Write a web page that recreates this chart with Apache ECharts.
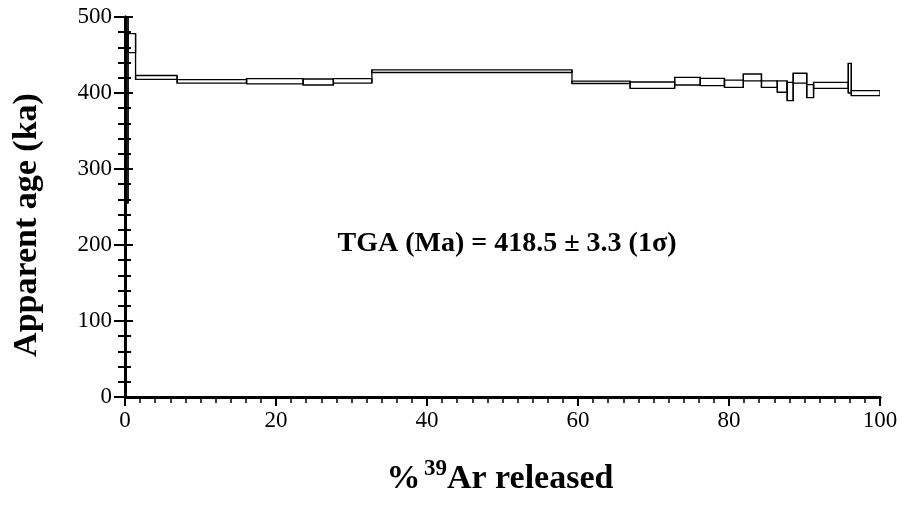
<!DOCTYPE html>
<html>
<head>
<meta charset="utf-8">
<script src="https://cdn.jsdelivr.net/npm/echarts@6/dist/echarts.min.js"></script>
<style>
  html,body{margin:0;padding:0;background:#fff;}
  #chart{width:903px;height:506px;}
</style>
</head>
<body>
<div id="chart"></div>
<script>
// step boundaries in cumulative % 39Ar released
const stepStart = [0, 0.4, 1.4, 6.9, 16.1, 23.6, 27.6, 32.7, 59.2, 66.9, 72.8, 76.2, 79.4, 81.9, 84.3, 86.4, 87.7, 88.5, 90.3, 91.2, 95.8, 96.2]
const stepEnd   = [0.4, 1.4, 6.9, 16.1, 23.6, 27.6, 32.7, 59.2, 66.9, 72.8, 76.2, 79.4, 81.9, 84.3, 86.4, 87.7, 88.5, 90.3, 91.2, 95.8, 96.2, 100]
// apparent age (ka), lower / upper edge of each box
const ageLow  = [255, 453, 418, 413, 412, 410.5, 413, 427, 412.5, 406, 410.5, 409.6, 407.5, 416, 407.5, 401, 390, 413, 394, 406, 400, 396.5]
const ageHigh = [520, 478, 423, 417.5, 419, 418.4, 419, 430.5, 415.5, 414.5, 420.5, 419.3, 417, 425, 416, 416, 414, 426, 411, 414, 439, 403]
const yTicks = [0, 100, 200, 300, 400, 500]
const xTicks = [0, 20, 40, 60, 80, 100]
const tgaText = 'TGA (Ma) = 418.5 ± 3.3 (1σ)'

const font = 'Liberation Serif'
let boxes = stepStart.map((v, i) => [v, stepEnd[i], ageLow[i], ageHigh[i]])

// box for each step + vertical riser to the next step
function renderBox(params, api) {
  let i = params.dataIndex
  let a = api.coord([api.value(0), api.value(3)])
  let b = api.coord([api.value(1), api.value(2)])
  let lineStyle = {fill: 'none', stroke: '#000', lineWidth: 1.3}
  let children = [{
    type: 'rect',
    shape: {x: a[0], y: a[1], width: b[0] - a[0], height: b[1] - a[1]},
    style: lineStyle
  }]
  if (i + 1 < boxes.length) {
    let top = api.coord([stepEnd[i], Math.max(ageHigh[i], ageHigh[i + 1])])
    let bot = api.coord([stepEnd[i], Math.min(ageLow[i], ageLow[i + 1])])
    children.push({
      type: 'line',
      shape: {x1: top[0], y1: top[1], x2: bot[0], y2: bot[1]},
      style: lineStyle
    })
  }
  return {type: 'group', children: children}
}

let myChart = echarts.init(document.getElementById('chart'))
myChart.setOption({
  animation: false,
  backgroundColor: '#fff',
  grid: {left: 125, right: 23, top: 17, bottom: 109},
  xAxis: [{
    type: 'value', min: xTicks[0], max: xTicks[xTicks.length - 1], interval: 20,
    axisLine: {lineStyle: {color: '#000', width: 2.5}},
    axisTick: {inside: false, length: 9, lineStyle: {color: '#000', width: 2}},
    minorTick: {show: true, splitNumber: 10, length: 6, lineStyle: {color: '#000', width: 1.5}},
    axisLabel: {color: '#000', fontFamily: font, fontSize: 23, margin: 12},
    splitLine: {show: false}
  }, {
    type: 'value', position: 'top', min: 0, max: 100,
    axisLine: {show: true, lineStyle: {color: '#000', width: 3}},
    axisTick: {show: false}, axisLabel: {show: false}, splitLine: {show: false}
  }],
  yAxis: [{
    type: 'value', min: yTicks[0], max: yTicks[yTicks.length - 1], interval: 100,
    axisLine: {show: true, lineStyle: {color: '#000', width: 3}},
    axisTick: {inside: false, length: 11, lineStyle: {color: '#000', width: 2}},
    minorTick: {show: true, splitNumber: 5, length: 7, lineStyle: {color: '#000', width: 2}},
    axisLabel: {color: '#000', fontFamily: font, fontSize: 23, margin: 13},
    splitLine: {show: false}
  }, {
    type: 'value', position: 'right', min: 0, max: 500, interval: 100,
    axisLine: {show: true, lineStyle: {color: '#000', width: 3}},
    axisTick: {inside: false, length: 8, lineStyle: {color: '#000', width: 2}},
    minorTick: {show: true, splitNumber: 5, length: 6, lineStyle: {color: '#000', width: 2}},
    axisLabel: {show: false},
    splitLine: {show: false}
  }],
  series: [{
    type: 'custom',
    xAxisIndex: 0, yAxisIndex: 0,
    clip: true,
    renderItem: renderBox,
    encode: {x: [0, 1], y: [2, 3]},
    data: boxes,
    z: 1
  }],
  graphic: [{
    type: 'text', z: 10, x: 507, y: 244,
    style: {text: tgaText, fontFamily: font, fontWeight: 'bold', fontSize: 28, fill: '#000', align: 'center', verticalAlign: 'middle'}
  }, {
    type: 'text', z: 10, x: 27, y: 225, rotation: Math.PI / 2,
    style: {text: 'Apparent age (ka)', fontFamily: font, fontWeight: 'bold', fontSize: 34, fill: '#000', align: 'center', verticalAlign: 'middle'}
  }, {
    type: 'text', z: 10, x: 500, y: 477,
    style: {
      text: '{t|%} {s|39}{t|Ar released}', align: 'center', verticalAlign: 'middle',
      rich: {
        t: {fontFamily: font, fontWeight: 'bold', fontSize: 34, lineHeight: 38, fill: '#000', verticalAlign: 'bottom'},
        s: {fontFamily: font, fontWeight: 'bold', fontSize: 23, lineHeight: 23, fill: '#000', verticalAlign: 'top'}
      }
    }
  }]
})
</script>
</body>
</html>
